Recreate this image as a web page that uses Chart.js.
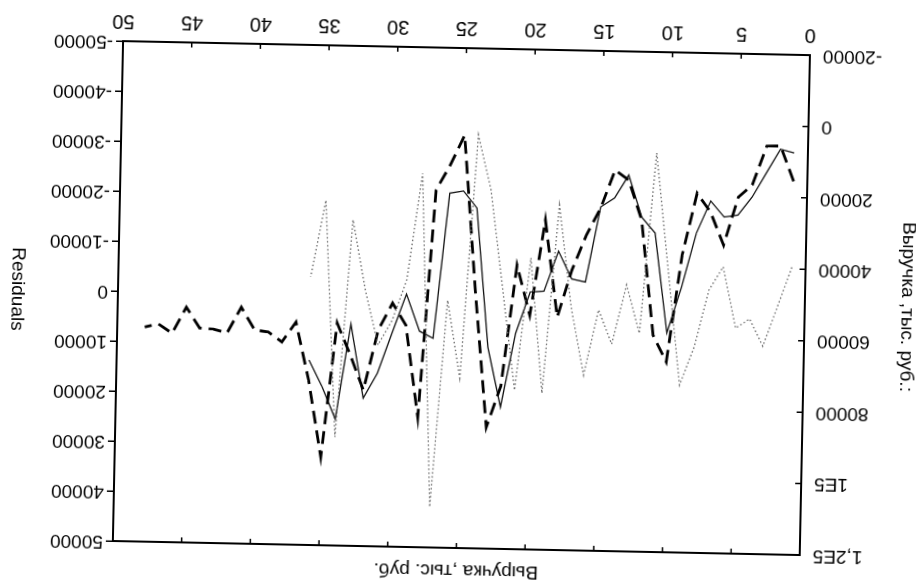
<!DOCTYPE html>
<html>
<head>
<meta charset="utf-8">
<script src="https://cdn.jsdelivr.net/npm/chart.js@4.4.1/dist/chart.umd.min.js"></script>
<style>
html, body { margin: 0; padding: 0; background: #fff; overflow: hidden; }
#wrap { width: 916px; height: 586px; }
/* o original foi digitalizado de cabeça para baixo e um pouco torto */
#grafico { display: block; transform: rotate(181.17deg); }
</style>
</head>
<body>
<div id="wrap"><canvas id="grafico" width="916" height="586"></canvas></div>
<script>
// valores (observações 1..36, previsão até 48)
const receitaReal = [7500, 6500, 13300, 20100, 25200, 25800, 21400, 30500, 45700, 58600,
    30700, 26300, 14600, 21100, 23700, 44800, 44000, 36300, 47600, 47900,
    59500, 80300, 63600, 24700, 20000, 20700, 61400, 59500, 49200, 60200,
    71500, 78600, 57900, 84600, 75700, 68200];
const receitaModelo = [15400, 5600, 5700, 16700, 20200, 33700, 24500, 19300, 36700, 66700,
    59300, 27100, 16000, 13300, 24000, 31700, 41500, 54800, 27700, 54400,
    40500, 74400, 86000, 47700, 4400, 12800, 19900, 83600, 57900, 51800,
    59400, 76300, 66600, 57700, 95300, 73800, 57700, 63300, 60600, 60100,
    53800, 61100, 60100, 59900, 54100, 61500, 59000, 59900];
const residuos = [-7500, 500, 8400, 3000, 4900, -7300, -2600, 8900, 16500, -6600,
    -29800, 6300, -3300, 8600, 1800, 14900, 1400, -19000, 18700, -8300,
    18200, -1800, -21700, -32700, 16000, 500, 41900, -24800, -3400, 4700,
    9700, -1200, -15200, 28300, -19000, -3600];

const xTicks = [0, 5, 10, 15, 20, 25, 30, 35, 40, 45, 50];
const receitaTicks = [-20000, 0, 20000, 40000, 60000, 80000, 100000, 120000];
const receitaRotulos = ['-20000', '0', '20000', '40000', '60000', '80000', '1E5', '1,2E5'];
const residuoTicks = [-50000, -40000, -30000, -20000, -10000, 0, 10000, 20000, 30000, 40000, 50000];

const tituloTopo = 'Выручка ,тыс. руб.';
const tituloEsquerda = 'Выручка ,тыс. руб.:';
const tituloDireita = 'Residuals';

const fonte = '"Liberation Sans", Arial, sans-serif';

function pontos(valores) {
    return valores.map((v, i) => ({ x: i + 1, y: v }));
}

// moldura, marcas internas e títulos
const moldura = {
    id: 'moldura',
    afterDatasetsDraw(chart) {
        const { ctx, chartArea: a, scales } = chart;
        ctx.save();
        ctx.strokeStyle = '#000';
        ctx.lineWidth = 2;
        ctx.strokeRect(a.left, a.top, a.right - a.left, a.bottom - a.top);
        ctx.lineWidth = 1.5;
        ctx.beginPath();
        xTicks.forEach(v => {
            const px = scales.x.getPixelForValue(v);
            ctx.moveTo(px, a.bottom); ctx.lineTo(px, a.bottom - 5);
            ctx.moveTo(px, a.top); ctx.lineTo(px, a.top + 5);
        });
        receitaTicks.forEach(v => {
            const py = scales.y.getPixelForValue(v);
            ctx.moveTo(a.left, py); ctx.lineTo(a.left + 6, py);
        });
        ctx.stroke();

        ctx.fillStyle = '#000';
        ctx.font = '19px ' + fonte;
        ctx.textAlign = 'center';
        ctx.textBaseline = 'middle';
        const meioY = (a.top + a.bottom) / 2;
        ctx.fillText(tituloTopo, (a.left + a.right) / 2, 16);
        ctx.save();
        ctx.translate(9, meioY);
        ctx.rotate(-Math.PI / 2);
        ctx.fillText(tituloEsquerda, 0, 0);
        ctx.restore();
        ctx.save();
        ctx.translate(899, meioY);
        ctx.rotate(-Math.PI / 2);
        ctx.fillText(tituloDireita, 0, 0);
        ctx.restore();
        ctx.restore();
    }
};

const ctx = document.getElementById('grafico').getContext('2d');
const grafico = new Chart(ctx, {
    type: 'line',
    data: {
        datasets: [{
            label: 'Residuals',
            data: pontos(residuos),
            yAxisID: 'y1',
            borderColor: '#666',
            borderWidth: 1.3,
            borderDash: [1.5, 2.5],
            pointRadius: 0,
            tension: 0
        }, {
            label: 'Модель',
            data: pontos(receitaModelo),
            yAxisID: 'y',
            borderColor: '#000',
            borderWidth: 2.8,
            borderDash: [13, 7],
            pointRadius: 0,
            tension: 0
        }, {
            label: 'Выручка',
            data: pontos(receitaReal),
            yAxisID: 'y',
            borderColor: '#111',
            borderWidth: 1.3,
            pointRadius: 0,
            tension: 0
        }]
    },
    options: {
        responsive: false,
        animation: false,
        devicePixelRatio: 1,
        events: [],
        layout: {
            padding: { top: 38, left: 0, right: 0, bottom: 0 }
        },
        plugins: {
            legend: { display: false },
            tooltip: { enabled: false },
            title: { display: false }
        },
        scales: {
            x: {
                type: 'linear',
                min: 0,
                max: 50,
                afterBuildTicks: scale => { scale.ticks = xTicks.map(v => ({ value: v })); },
                afterFit: scale => { scale.height = 48; },
                ticks: {
                    color: '#000',
                    font: { size: 20, family: fonte },
                    padding: 8,
                    maxRotation: 0,
                    callback: value => String(value)
                },
                grid: { display: false, drawTicks: false },
                border: { display: false }
            },
            y: {
                position: 'left',
                min: -20000,
                max: 120000,
                afterBuildTicks: scale => { scale.ticks = receitaTicks.map(v => ({ value: v })); },
                afterFit: scale => { scale.width = 111; },
                ticks: {
                    color: '#000',
                    font: { size: 19, family: fonte },
                    padding: 13,
                    callback: (value, index) => receitaRotulos[index]
                },
                grid: { display: false, drawTicks: false },
                border: { display: false }
            },
            y1: {
                position: 'right',
                min: -50000,
                max: 50000,
                afterBuildTicks: scale => { scale.ticks = residuoTicks.map(v => ({ value: v })); },
                afterFit: scale => { scale.width = 118; },
                ticks: {
                    color: '#000',
                    font: { size: 19, family: fonte },
                    padding: 3,
                    callback: value => String(value)
                },
                grid: {
                    drawOnChartArea: false,
                    drawTicks: true,
                    tickLength: 7,
                    color: '#000',
                    lineWidth: 1.5
                },
                border: { display: false }
            }
        }
    },
    plugins: [moldura]
});
</script>
</body>
</html>
